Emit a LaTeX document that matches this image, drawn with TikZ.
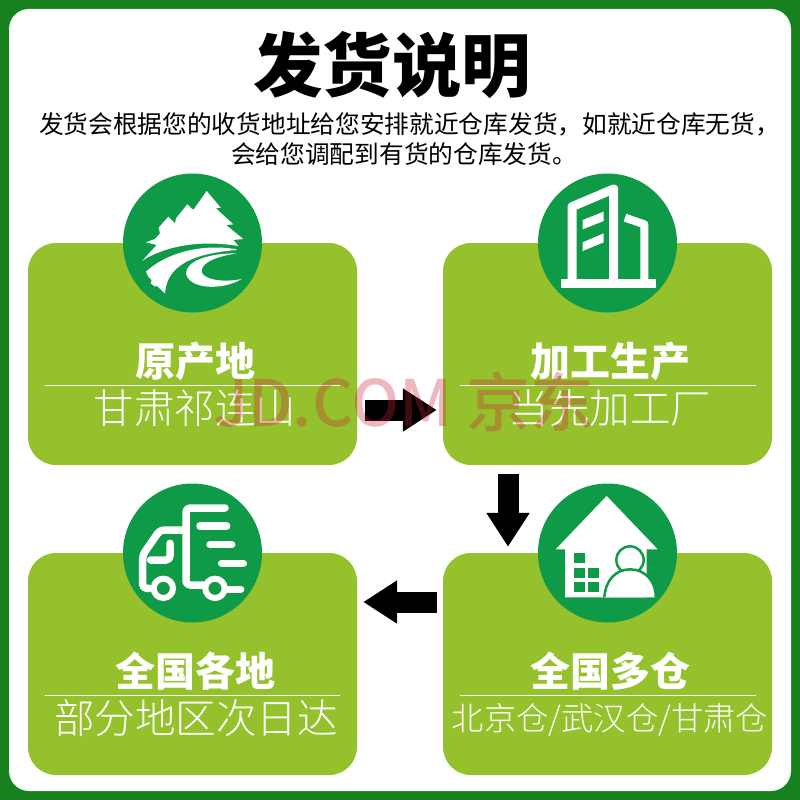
\documentclass[tikz,border=0pt]{standalone}
\usepackage{fontspec}
\setmainfont{Noto Sans CJK SC}
\newfontfamily\cjklight{Noto Sans CJK SC Light}
\newfontfamily\cjkmedium{Noto Sans CJK SC Medium}
\newfontfamily\cjkblack{Noto Sans CJK SC Black}
\definecolor{pagegreen}{RGB}{23,128,31}
\definecolor{boxgreen}{RGB}{149,194,44}
\definecolor{roundgreen}{RGB}{14,154,71}
\definecolor{jdred}{RGB}{203,37,59}
\usetikzlibrary{arrows.meta}
\tikzset{
  panel/.style={fill=boxgreen,rounded corners=28pt,minimum width=329pt,minimum height=222pt,inner sep=0pt},
  badge/.style={circle,fill=roundgreen,minimum size=139pt,inner sep=0pt},
  heading/.style={text=white,font=\fontsize{40}{40}\selectfont\bfseries,inner sep=0pt},
  place/.style={text=white,font=\fontsize{40.5}{40.5}\selectfont\cjklight,inner sep=0pt},
  intro/.style={font=\fontsize{24.7}{24.7}\selectfont,inner sep=0pt},
  blockarrow/.style={line width=21pt,-{Triangle[length=34pt,width=41pt]}},
  iconline/.style={draw=white,line width=7.5pt,line cap=round,line join=round,rounded corners=4pt},
  divider/.style={white,line width=0.7pt}
}
\begin{document}
\begin{tikzpicture}[x=1pt,y=-1pt]
\useasboundingbox (0,0) rectangle (800,800);
\fill[pagegreen] (0,0) rectangle (800,800);
\fill[white,rounded corners=20pt] (9,9) rectangle (791,791);
% title
\node[font=\fontsize{69.5}{69.5}\selectfont\cjkblack,inner sep=0pt] (title) at (392,65) {发货说明};
\node[intro] (introa) at (409.5,124) {发货会根据您的收货地址给您安排就近仓库发货，如就近仓库无货，};
\node[intro] (introb) at (404,154) {会给您调配到有货的仓库发货。};
% panels
\node[panel] (origin) at (192.5,354) {};
\node[panel] (factory) at (607.5,354) {};
\node[panel] (nation) at (192.5,664) {};
\node[panel] (depot) at (607.5,664) {};
\node[badge] (originround) at (192.5,243) {};
\node[badge] (factoryround) at (607.5,243) {};
\node[badge] (nationround) at (192.5,553) {};
\node[badge] (depotround) at (607.5,553) {};
% panel texts
\draw[divider] (45,385) -- (340,385);
\draw[divider] (460,385) -- (756,385);
\draw[divider] (45,695) -- (340,695);
\draw[divider] (460,695) -- (756,695);
\node[heading] (originname) at (195,361) {原产地};
\node[place] (originplace) at (195,408) {甘肃祁连山};
\node[heading] (factoryname) at (610,361) {加工生产};
\node[place] (factoryplace) at (610,408) {当先加工厂};
\node[heading] (nationname) at (195,671) {全国各地};
\node[place] (nationplace) at (196,718) {部分地区次日达};
\node[heading] (depotname) at (610,671) {全国多仓};
\node[place,font=\fontsize{32.3}{32.3}\selectfont\cjklight] (depotplace) at (610,720) {北京仓/武汉仓/甘肃仓};
% arrows between panels
\draw[blockarrow,shorten <=8pt,shorten >=6pt] ([yshift=-56pt]origin.east) -- ([yshift=-56pt]factory.west);
\draw[blockarrow,shorten <=9pt,shorten >=6pt] ([xshift=-99.5pt]factory.south) -- ([xshift=-99.5pt]depot.north);
\draw[blockarrow,shorten <=6pt,shorten >=6pt] ([yshift=62pt]depot.west) -- ([yshift=62pt]nation.east);
% forest
\begin{scope}[shift={(110,165)},scale=1/3]
\fill[white] (97,287) -- (140,240) -- (108,232) -- (135,222) -- (150,205) -- (146,188) -- (175,155) -- (195,175) -- (198,160) -- (232,118) -- (250,135) -- (290,78) -- (332,128) -- (318,130) -- (370,178) -- (348,180) -- (400,222) -- (370,225) -- (385,243) .. controls (280,225) and (170,240) .. (97,287) -- cycle;
\fill[white] (380,253) .. controls (280,235) and (170,262) .. (108,320) -- (115,335) -- (125,345) -- (122,355) -- (135,365) -- (140,362) -- (165,385) .. controls (170,320) and (215,268) .. (380,255) -- cycle;
\fill[white] (380,265) .. controls (290,265) and (228,290) .. (228,325) .. controls (235,370) and (330,380) .. (395,342) .. controls (330,355) and (270,340) .. (275,315) .. controls (280,290) and (320,275) .. (380,265) -- cycle;
\end{scope}
% building
\begin{scope}[shift={(525,165)},scale=1/3]
\draw[draw=white,line width=9pt,line join=round] (141,345) -- (141,125) -- (266,72) -- (266,345);
\draw[draw=white,line width=8pt,line join=round] (300,158) -- (358,178) -- (358,345);
\fill[white] (108,342) rectangle (392,368);
\fill[white] (173,165) -- (236,140) -- (236,168) -- (173,193) -- cycle;
\fill[white] (173,232) -- (236,205) -- (236,232) -- (173,258) -- cycle;
\end{scope}
% truck
\begin{scope}[shift={(110,480)},scale=1/3]
\draw[iconline] (345,84) -- (228,84) -- (228,315) -- (280,315);
\draw[iconline] (228,150) -- (150,150) -- (98,225) -- (98,325) -- (118,325);
\draw[iconline] (180,190) -- (180,240) -- (122,240);
\draw[iconline] (270,138) -- (350,138);
\draw[iconline] (300,194) -- (365,194);
\draw[iconline] (335,250) -- (400,250);
\draw[iconline] (355,328) -- (392,328);
\draw[draw=white,fill=roundgreen,line width=6pt] (160,325) circle (29);
\draw[draw=white,fill=roundgreen,line width=6pt] (315,325) circle (29);
\end{scope}
% house
\begin{scope}[shift={(525,480)},scale=1/3]
\fill[white] (245,48) -- (398,208) -- (365,208) -- (365,352) -- (120,352) -- (120,208) -- (92,208) -- cycle;
\fill[roundgreen] (147,218) rectangle (180,248);
\fill[roundgreen] (147,263) rectangle (180,295);
\fill[roundgreen] (190,263) rectangle (222,295);
\fill[roundgreen] (147,307) rectangle (180,337);
\fill[roundgreen] (190,307) rectangle (222,337);
\draw[draw=roundgreen,fill=white,line width=2.5pt] (315,240) circle (41);
\draw[draw=roundgreen,fill=white,line width=2.5pt] (238,352) .. controls (242,300) and (272,268) .. (316,268) .. controls (360,268) and (394,305) .. (392,352);
\end{scope}
% watermark
\node[text=jdred,opacity=0.32,font=\fontsize{64}{64}\selectfont\cjkmedium,inner sep=0pt] (watermark) at (404,402) {JD.COM 京东};
\end{tikzpicture}
\end{document}
